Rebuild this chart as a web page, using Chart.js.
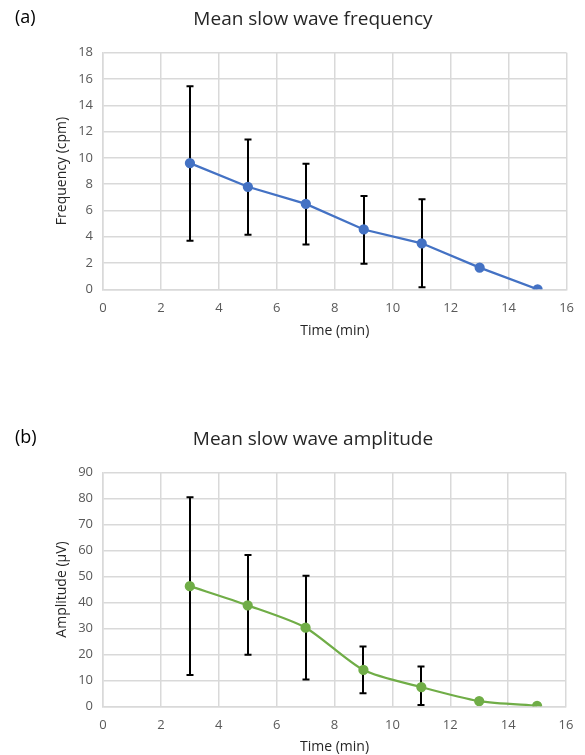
<!DOCTYPE html>
<html>
<head>
<meta charset="utf-8">
<script src="https://cdn.jsdelivr.net/npm/chart.js@4"></script>
<style>
  body { margin: 0; background: #fff; }
  .box { position: absolute; left: 0; width: 585px; }
  #boxA { top: 0; height: 375px; }
  #boxB { top: 375px; height: 380px; }
</style>
</head>
<body>
<div class="box" id="boxA"><canvas id="chartA" width="585" height="375"></canvas></div>
<div class="box" id="boxB"><canvas id="chartB" width="585" height="380"></canvas></div>
<script>
const timeMin = [3, 5, 7, 9, 11, 13, 15];
const xTicks = [0, 2, 4, 6, 8, 10, 12, 14, 16];

const freqMean = [9.6, 7.8, 6.5, 4.55, 3.5, 1.65, 0];
const freqUpper = [15.45, 11.4, 9.55, 7.1, 6.85, null, null];
const freqLower = [3.7, 4.15, 3.4, 1.95, 0.15, null, null];

const ampMean = [46.3, 38.9, 30.3, 14, 7.4, 2.0, 0.2];
const ampUpper = [80.5, 58.3, 50.3, 23, 15.3, null, null];
const ampLower = [12.1, 19.9, 10.3, 5, 0.5, null, null];

const FONT = "'Open Sans', sans-serif";

// error bars drawn behind the line and markers
const errorBars = {
    id: "errorBars",
    beforeDatasetsDraw(chart, args, opts) {
        const ctx = chart.ctx;
        const xs = chart.scales.x, ys = chart.scales.y;
        ctx.save();
        ctx.strokeStyle = "#000";
        ctx.lineWidth = 2;
        timeMin.forEach((t, i) => {
            if (opts.upper[i] == null) return;
            const px = Math.round(xs.getPixelForValue(t));
            const top = ys.getPixelForValue(opts.upper[i]);
            const bot = ys.getPixelForValue(opts.lower[i]);
            ctx.beginPath();
            ctx.moveTo(px, top); ctx.lineTo(px, bot);
            ctx.moveTo(px - 3.5, top); ctx.lineTo(px + 3.5, top);
            ctx.moveTo(px - 3.5, bot); ctx.lineTo(px + 3.5, bot);
            ctx.stroke();
        });
        ctx.restore();
    }
};

// panel letter and chart heading
const heading = {
    id: "heading",
    afterDraw(chart, args, opts) {
        const ctx = chart.ctx;
        ctx.save();
        ctx.fillStyle = "#000";
        ctx.textBaseline = "middle";
        ctx.font = "18px " + FONT;
        ctx.textAlign = "left";
        ctx.fillText(opts.letter, 15, opts.y - 2);
        ctx.font = "19px " + FONT;
        ctx.fillStyle = "#262626";
        ctx.textAlign = "center";
        ctx.fillText(opts.text, 313, opts.y);
        ctx.restore();
    }
};

function makeChart(id, cfg) {
    return new Chart(document.getElementById(id), {
        type: "line",
        data: {
            datasets: [{
                data: timeMin.map((t, i) => ({ x: t, y: cfg.mean[i] })),
                borderColor: cfg.color,
                backgroundColor: cfg.color,
                borderWidth: 2.25,
                pointRadius: 4,
                pointHoverRadius: 4,
                tension: cfg.tension
            }]
        },
        options: {
            responsive: false,
            animation: false,
            layout: { padding: { left: 53.6, right: cfg.padRight, top: cfg.padTop, bottom: cfg.padBottom } },
            scales: {
                x: {
                    type: "linear",
                    min: 0, max: 16,
                    afterBuildTicks: s => { s.ticks = xTicks.map(v => ({ value: v })); },
                    grid: { color: "#d9d9d9", lineWidth: 1.5, drawTicks: false },
                    border: { color: "#d9d9d9", width: 1.5 },
                    ticks: { padding: 11, color: "#595959", font: { family: FONT, size: 13 } },
                    title: { display: true, text: "Time (min)", color: "#262626",
                             padding: { top: 4, bottom: 0 }, font: { family: FONT, size: 14 } },
                    afterFit: s => { s.height = cfg.xAxisH; }
                },
                y: {
                    min: 0, max: cfg.yMax,
                    ticks: { stepSize: cfg.yStep, padding: 10, color: "#595959", font: { family: FONT, size: 13 } },
                    grid: { color: "#d9d9d9", lineWidth: 1.5, drawTicks: false },
                    border: { color: "#d9d9d9", width: 1.5 },
                    title: { display: true, text: cfg.yTitle, color: "#262626",
                             padding: { top: 0, bottom: 0 }, font: { family: FONT, size: 14 } },
                    afterFit: s => { s.width = 49.4; }
                }
            },
            plugins: {
                legend: { display: false },
                tooltip: { enabled: false },
                errorBars: { upper: cfg.upper, lower: cfg.lower },
                heading: { letter: cfg.letter, text: cfg.title, y: cfg.titleY }
            }
        },
        plugins: [errorBars, heading]
    });
}

makeChart("chartA", {
    mean: freqMean, upper: freqUpper, lower: freqLower,
    color: "#4472c4", tension: 0,
    yMax: 18, yStep: 2, yTitle: "Frequency (cpm)",
    letter: "(a)", title: "Mean slow wave frequency", titleY: 20,
    padTop: 52.7, padBottom: 35.7, padRight: 15, xAxisH: 50
});

makeChart("chartB", {
    mean: ampMean, upper: ampUpper, lower: ampLower,
    color: "#70ad47", tension: 0.25,
    yMax: 90, yStep: 10, yTitle: "Amplitude (\u00b5V)",
    letter: "(b)", title: "Mean slow wave amplitude", titleY: 65,
    padTop: 97.7, padBottom: 0, padRight: 19, xAxisH: 48.7
});
</script>
</body>
</html>
